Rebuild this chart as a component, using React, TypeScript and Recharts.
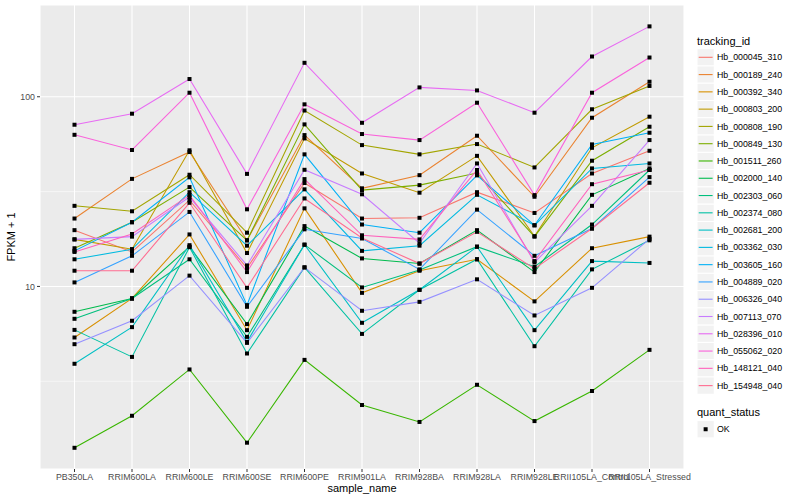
import { CartesianGrid, Label, Line, LineChart, ReferenceLine, XAxis, YAxis } from "recharts";

const FONT = '"Liberation Sans", Arial, Helvetica, sans-serif';

const SAMPLES = [
  "PB350LA",
  "RRIM600LA",
  "RRIM600LE",
  "RRIM600SE",
  "RRIM600PE",
  "RRIM901LA",
  "RRIM928BA",
  "RRIM928LA",
  "RRIM928LE",
  "RRII105LA_Control",
  "RRII105LA_Stressed",
];

const TRACKING_IDS = [
  "Hb_000045_310",
  "Hb_000189_240",
  "Hb_000392_340",
  "Hb_000803_200",
  "Hb_000808_190",
  "Hb_000849_130",
  "Hb_001511_260",
  "Hb_002000_140",
  "Hb_002303_060",
  "Hb_002374_080",
  "Hb_002681_200",
  "Hb_003362_030",
  "Hb_003605_160",
  "Hb_004889_020",
  "Hb_006326_040",
  "Hb_007113_070",
  "Hb_028396_010",
  "Hb_055062_020",
  "Hb_148121_040",
  "Hb_154948_040",
];

// ggplot default hue palette for 20 levels
const LINE_COLORS = [
  "#F8766D", "#EA8331", "#D89000", "#C09B00", "#A3A500",
  "#7CAE00", "#39B600", "#00BB4E", "#00BF7D", "#00C1A3",
  "#00BFC4", "#00BAE0", "#00B0F6", "#35A2FF", "#9590FF",
  "#C77CFF", "#E76BF3", "#FA62DB", "#FF62BC", "#FF6C91",
];

// FPKM + 1, one value per sample (SAMPLES order)
const HB_000045_310 = [19.8, 15.2, 28.5, 12.5, 35.1, 22.8, 23.0, 31.4, 24.4, 39.4, 51.9];
const HB_000189_240 = [22.8, 36.9, 51.1, 17.5, 62.8, 32.9, 38.6, 62.3, 29.7, 77.5, 120];
const HB_000392_340 = [5.38, 8.64, 18.8, 5.88, 25.8, 9.25, 12.1, 13.9, 8.34, 15.9, 18.3];
const HB_000803_200 = [17.7, 15.7, 52.2, 15.0, 60.3, 39.4, 31.2, 48.8, 18.4, 53.8, 78.5];
const HB_000808_190 = [26.6, 24.9, 38.8, 19.2, 84.6, 55.6, 49.7, 56.3, 42.4, 85.9, 114];
const HB_000849_130 = [15.9, 21.8, 33.4, 17.5, 71.5, 32.2, 34.2, 39.6, 18.3, 46.0, 69.5];
const HB_001511_260 = [1.41, 2.08, 3.65, 1.5, 4.1, 2.37, 1.93, 3.03, 1.95, 2.81, 4.63];
const HB_002000_140 = [7.35, 8.64, 16.2, 6.33, 20.8, 14.05, 13.2, 19.8, 11.9, 30.4, 41.9];
const HB_002303_060 = [6.75, 8.64, 13.9, 5.42, 16.6, 9.88, 12.2, 16.2, 12.7, 21.2, 41.1];
const HB_002374_080 = [5.9, 4.25, 16.1, 4.43, 12.6, 5.62, 9.6, 13.9, 4.84, 12.3, 17.5];
const HB_002681_200 = [3.91, 6.1, 16.5, 5.1, 16.6, 6.43, 9.6, 16.2, 5.88, 13.6, 13.3];
const HB_003362_030 = [13.9, 15.7, 31.4, 16.4, 32.5, 15.4, 16.4, 30.4, 21.0, 41.9, 44.5];
const HB_003605_160 = [15.4, 21.8, 37.6, 7.97, 49.7, 21.2, 19.2, 38.5, 21.0, 56.1, 64.6];
const HB_004889_020 = [10.5, 14.5, 24.7, 7.81, 20.0, 17.9, 12.3, 25.4, 14.5, 20.2, 37.7];
const HB_006326_040 = [4.96, 6.59, 11.4, 5.04, 12.6, 7.44, 8.29, 10.9, 7.03, 9.83, 17.8];
const HB_007113_070 = [17.7, 18.3, 29.6, 12.9, 41.2, 30.6, 16.9, 44.5, 13.4, 26.6, 59.1];
const HB_028396_010 = [71.2, 81.4, 124, 39.2, 151, 72.9, 112, 108, 82.4, 163, 235];
const HB_055062_020 = [63.0, 52.4, 105, 25.5, 91.2, 63.6, 59.1, 93.0, 30.3, 105, 161];
const HB_148121_040 = [15.2, 18.9, 30.3, 11.9, 36.8, 18.6, 17.7, 41.1, 13.6, 34.6, 41.1];
const HB_154948_040 = [12.1, 12.1, 27.6, 9.83, 29.1, 18.0, 13.2, 19.4, 12.4, 20.2, 35.2];

const SERIES = [
  HB_000045_310, HB_000189_240, HB_000392_340, HB_000803_200, HB_000808_190,
  HB_000849_130, HB_001511_260, HB_002000_140, HB_002303_060, HB_002374_080,
  HB_002681_200, HB_003362_030, HB_003605_160, HB_004889_020, HB_006326_040,
  HB_007113_070, HB_028396_010, HB_055062_020, HB_148121_040, HB_154948_040,
];

const Y_TICKS = [10, 100];
const Y_MINOR = [3.162, 31.62];

const rows = SAMPLES.map((sample, i) => {
  const row: Record<string, number | string> = { sample };
  SERIES.forEach((vals, s) => {
    row[`s${s}`] = vals[i];
  });
  return row;
});

function SquareDot(props: any) {
  const { cx, cy, index } = props;
  if (cx == null || cy == null) return <g key={index} />;
  return <rect key={index} x={cx - 2} y={cy - 2} width={4} height={4} fill="#000" />;
}

function LegendPanel() {
  const x0 = 697;
  const top = 48.66;
  const step = 17.28;
  return (
    <svg
      width={800}
      height={500}
      style={{ position: "absolute", left: 0, top: 0, pointerEvents: "none" }}
      fontFamily={FONT}
    >
      <text x={x0} y={44.5} fontSize={11} fill="#000">
        tracking_id
      </text>
      {TRACKING_IDS.map((id, i) => {
        const y = top + i * step;
        return (
          <g key={id}>
            <rect x={x0} y={y} width={step} height={step} fill="#F2F2F2" stroke="#fff" />
            <line x1={x0 + 1.7} x2={x0 + 15.6} y1={y + step / 2} y2={y + step / 2} stroke={LINE_COLORS[i]} strokeWidth={1.1} />
            <text x={717} y={y + step / 2 + 3.1} fontSize={8.8} fill="#000">
              {id}
            </text>
          </g>
        );
      })}
      <text x={x0} y={415.5} fontSize={11} fill="#000">
        quant_status
      </text>
      <rect x={x0} y={420.6} width={step} height={step} fill="#F2F2F2" stroke="#fff" />
      <rect x={x0 + step / 2 - 2} y={420.6 + step / 2 - 2} width={4} height={4} fill="#000" />
      <text x={717} y={432.4} fontSize={8.8} fill="#000">
        OK
      </text>
    </svg>
  );
}

export default function App() {
  const tickStyle = { fontSize: 8.8, fill: "#4D4D4D", fontFamily: FONT };
  return (
    <div style={{ position: "absolute", left: 0, top: 0, width: 800, height: 500, background: "#fff" }}>
      <LineChart width={800} height={500} data={rows} margin={{ top: 5, right: 116, left: 0, bottom: 0 }}>
        <CartesianGrid fill="#EBEBEB" stroke="#fff" strokeWidth={1.07} />
        {Y_MINOR.map((v) => (
          <ReferenceLine key={v} y={v} stroke="#fff" strokeWidth={0.55} />
        ))}
        <XAxis
          dataKey="sample"
          scale="point"
          padding={{ left: 34.5, right: 34.5 }}
          interval={0}
          height={31}
          tick={tickStyle}
          tickSize={3}
          tickMargin={2}
          tickLine={{ stroke: "#333333" }}
          axisLine={false}
        >
          <Label value="sample_name" position="insideBottom" offset={8} fontSize={11} fill="#000" fontFamily={FONT} />
        </XAxis>
        <YAxis
          type="number"
          scale="log"
          domain={[1.09, 304.6]}
          allowDataOverflow
          ticks={Y_TICKS}
          width={40}
          tick={tickStyle}
          tickSize={3}
          tickMargin={2}
          tickLine={{ stroke: "#333333" }}
          axisLine={false}
        >
          <Label
            content={() => (
              <text x={15} y={237} transform="rotate(-90 15 237)" textAnchor="middle" fontSize={11} fill="#000" fontFamily={FONT}>
                FPKM + 1
              </text>
            )}
          />
        </YAxis>
        {SERIES.map((_, s) => (
          <Line
            key={`l${s}`}
            type="linear"
            dataKey={`s${s}`}
            name={TRACKING_IDS[s]}
            stroke={LINE_COLORS[s]}
            strokeWidth={1.07}
            dot={false}
            activeDot={false}
            isAnimationActive={false}
          />
        ))}
        {SERIES.map((_, s) => (
          <Line
            key={`p${s}`}
            type="linear"
            dataKey={`s${s}`}
            stroke="none"
            dot={SquareDot}
            activeDot={false}
            legendType="none"
            isAnimationActive={false}
          />
        ))}
      </LineChart>
      <LegendPanel />
    </div>
  );
}
